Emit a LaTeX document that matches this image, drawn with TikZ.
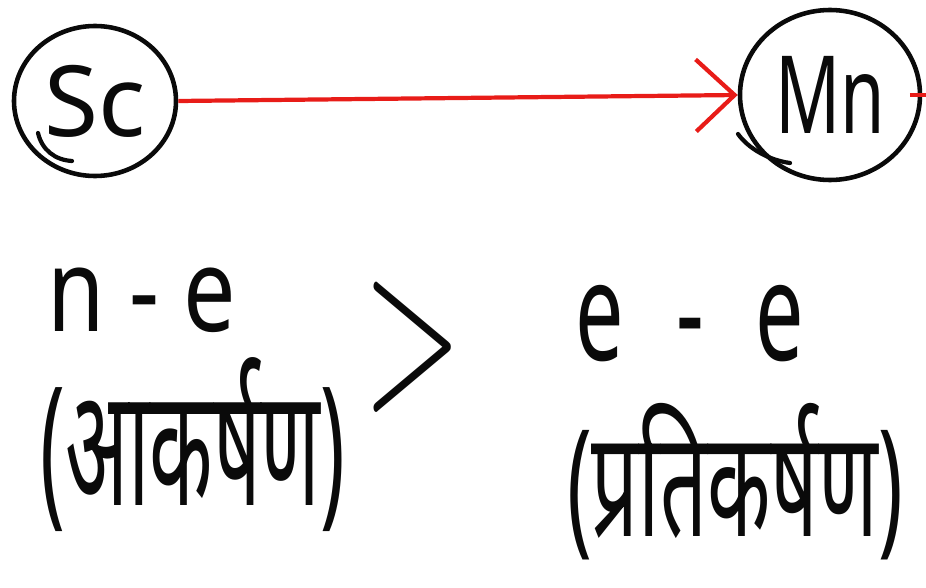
\documentclass[tikz,border=0pt]{standalone}
\usepackage{fontspec}
\setmainfont{Noto Sans}
\newfontfamily\devafont[Script=Devanagari]{Noto Sans}
\usepackage{tikz}
\usetikzlibrary{arrows.meta, shapes.geometric}
\definecolor{inkblack}{RGB}{10, 10, 10}
\definecolor{inkred}{RGB}{232, 28, 24}
% handwriting is tall and narrow
\newcommand{\tallink}[2]{\scalebox{1}[#1]{#2}}
\tikzset{
  atom/.style={draw=inkblack, line width=2.6pt, ellipse, inner sep=0pt, inkblack},
  bigtext/.style={inkblack, inner sep=0pt},
  devatext/.style={inkblack, inner sep=0pt, font=\devafont\fontsize{47}{56}\selectfont},
  pull/.style={inkred, line width=2.4pt},
  ink/.style={inkblack, line width=2.4pt, line cap=round}
}

\begin{document}
\begin{tikzpicture}[x=0.02cm, y=-0.02cm, >={Straight Barb[length=22pt, width=41pt]}]
  \useasboundingbox (0,0) rectangle (926,588);

  % Atoms
  \node[atom, minimum width=162*0.02cm, minimum height=150*0.02cm,
        font=\fontsize{56}{60}\selectfont] (sc) at (95,101) {Sc};
  \node[atom, minimum width=180*0.02cm, minimum height=170*0.02cm,
        font=\fontsize{41}{48}\selectfont] (mn) at (830,95) {\tallink{1.5}{Mn}};
  % overlap strokes of the hand drawn rings
  \draw[ink] (38,133) .. controls (42,150) and (55,160) .. (72,161);
  \draw[ink] (738,134) .. controls (748,148) and (768,160) .. (790,163);

  % attraction arrow
  \draw[pull, ->] (sc.east) -- (mn.west);
  \draw[pull] ([xshift=-7pt]mn.east) -- ++(20,0);

  % Left side: n - e
  \node[bigtext, font=\fontsize{53}{60}\selectfont] (ne) at (142,300) {\tallink{1.25}{n - e}};
  \node[devatext] (attract) at (193,445) {\tallink{2.0}{(आकर्षण)}};

  % comparison
  \node[bigtext] (gt) at (413,347) {\scalebox{7.2}[12.8]{$>$}};

  % Right side: e - e
  \node[bigtext, font=\fontsize{49}{56}\selectfont] (ee) at (690,324)
    {\tallink{1.6}{e\hspace{0.6em}-\hspace{0.6em}e}};
  \node[devatext] (repel) at (735,482) {\tallink{1.8}{(प्रतिकर्षण)}};

\end{tikzpicture}
\end{document}
